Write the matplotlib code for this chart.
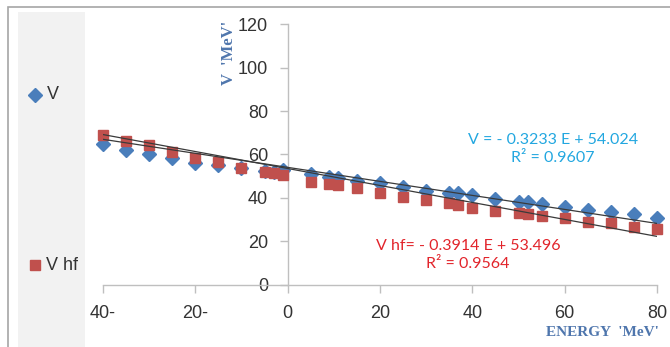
import matplotlib
matplotlib.use("Agg")
import matplotlib.pyplot as plt
from matplotlib.patches import Rectangle
from matplotlib.lines import Line2D
import numpy as np

# ---- data ----
energy = [-40, -35, -30, -25, -20, -15, -10, -5, -3, -1, 5, 9, 11, 15, 20, 25,
          30, 35, 37, 40, 45, 50, 52, 55, 60, 65, 70, 75, 80]
v_vals = [64.8, 62.0, 60.2, 58.2, 56.2, 55.1, 53.8, 52.4, 51.9, 52.8, 50.8, 49.7,
          49.0, 47.9, 46.7, 44.9, 43.3, 42.3, 42.0, 41.3, 39.4, 38.2, 37.9, 37.0,
          35.6, 34.4, 33.3, 32.4, 30.7]
vhf_vals = [69.0, 66.2, 64.3, 61.0, 58.2, 56.6, 53.9, 51.8, 51.3, 50.5, 47.4, 46.2,
            45.9, 44.4, 42.3, 40.5, 39.0, 37.5, 36.7, 35.5, 34.0, 32.8, 32.7, 31.6,
            30.5, 29.0, 28.2, 26.7, 25.5]
v_fit = (-0.3233, 54.024)
vhf_fit = (-0.3914, 53.496)
x_ticks = [-40, -20, 0, 20, 40, 60, 80]
x_tick_labels = ["40-", "20-", "0", "20", "40", "60", "80"]
y_ticks = [0, 20, 40, 60, 80, 100, 120]
series_names = ["V", "V hf"]
eq_texts = ["V = - 0.3233 E + 54.024\nR\u00b2 = 0.9607",
            "V hf= - 0.3914 E + 53.496\nR\u00b2 = 0.9564"]

W, H = 670, 347
fig = plt.figure(figsize=(W / 100, H / 100), dpi=100)
fig.patch.set_facecolor("white")

def fx(px):
    return px / W

def fy(py):
    return 1 - py / H

# outer frame and grey legend panel
fig.patches.append(Rectangle((fx(8), fy(360)), fx(700) - fx(8), fy(7) - fy(360),
                             transform=fig.transFigure, facecolor="white",
                             edgecolor="#a6a6a6", lw=1.2, zorder=-2))
fig.patches.append(Rectangle((fx(18), fy(360)), fx(85) - fx(18), fy(12) - fy(360),
                             transform=fig.transFigure, facecolor="#f2f2f2",
                             edgecolor="none", zorder=-1))

blue = "#4a7ebb"
red = "#c0504d"

ax = fig.add_axes([fx(103), fy(284.5), fx(657) - fx(103), fy(24.3) - fy(284.5)])
ax.set_zorder(1)
ax.set_facecolor("none")
ax.set_xlim(-40, 80)
ax.set_ylim(0, 120)

ax.plot(energy, v_vals, linestyle="none", marker="D", ms=7.5, color=blue,
        markeredgecolor=blue, zorder=3, clip_on=False)
ax.plot(energy, vhf_vals, linestyle="none", marker="s", ms=7.2, color=red,
        markeredgecolor=red, zorder=4, clip_on=False)

xl = np.array([-40, 80])
ax.plot(xl, v_fit[0] * xl + v_fit[1], color="#3a3a3a", lw=0.9, zorder=5)
ax.plot(xl, vhf_fit[0] * xl + vhf_fit[1], color="#3a3a3a", lw=0.9, zorder=5)

for s in ["top", "right"]:
    ax.spines[s].set_visible(False)
ax.spines["left"].set_position(("data", 0))
ax.spines["left"].set_color("#bfbfbf")
ax.spines["bottom"].set_color("#bfbfbf")
ax.spines["left"].set_linewidth(1.0)
ax.spines["bottom"].set_linewidth(1.0)

ax.set_xticks(x_ticks)
ax.set_xticklabels(x_tick_labels)
ax.set_yticks(y_ticks)
ax.tick_params(axis="both", colors="#bfbfbf", labelcolor="#333333",
               labelsize=13, length=6, width=1.0, direction="out")
ax.tick_params(axis="y", pad=8)
ax.tick_params(axis="x", pad=9)
for lab in ax.get_xticklabels() + ax.get_yticklabels():
    lab.set_fontfamily("Liberation Sans")

# axis titles
fig.text(fx(229), fy(53), "V  'MeV'", rotation=90, ha="center", va="center",
         color="#4f76ad", fontsize=12, fontweight="bold", family="Liberation Serif")
fig.text(fx(602), fy(332), "ENERGY  'MeV'", ha="center", va="center",
         color="#4f76ad", fontsize=11, fontweight="bold", family="Liberation Serif")

# equations
fig.text(fx(553), fy(149), eq_texts[0], ha="center", va="center", color="#22a7e0",
         fontsize=11.5, family="Lato", linespacing=1.45)
fig.text(fx(468), fy(255), eq_texts[1], ha="center", va="center", color="#e2242b",
         fontsize=11.5, family="Lato", linespacing=1.45)

# legend
fig.add_artist(Line2D([fx(35)], [fy(95)], marker="D", ms=7.5, color=blue,
                      linestyle="none", transform=fig.transFigure))
fig.text(fx(47), fy(95), series_names[0], ha="left", va="center", color="#333333",
         fontsize=13, family="Liberation Sans")
fig.add_artist(Line2D([fx(35)], [fy(265)], marker="s", ms=7.2, color=red,
                      linestyle="none", transform=fig.transFigure))
fig.text(fx(46), fy(265), series_names[1], ha="left", va="center", color="#333333",
         fontsize=13, family="Liberation Sans")

fig.savefig("out.png", dpi=100)
